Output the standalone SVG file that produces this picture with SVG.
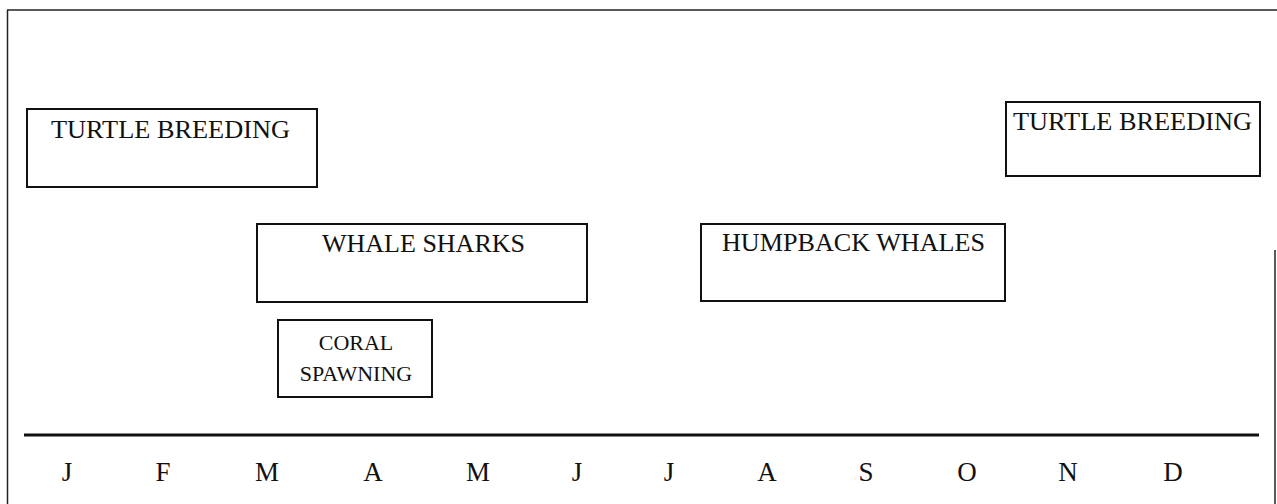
<svg xmlns="http://www.w3.org/2000/svg" width="1277" height="504" viewBox="0 0 1277 504">
<style>
.box{fill:#fff;stroke:#111;stroke-width:2}
.t{font-family:"Liberation Serif","Times New Roman",serif;fill:#111}
.m{font-family:"Liberation Serif","Times New Roman",serif;fill:#111;font-size:27px;text-anchor:middle}
.frame{stroke:#222;stroke-width:1.5;fill:none}
</style>
<rect width="1277" height="504" fill="#fff"/>
<g id="frame">
<line class="frame" x1="7" y1="10" x2="1277" y2="10"/>
<line class="frame" x1="7.5" y1="10" x2="7.5" y2="504"/>
<line class="frame" x1="1275" y1="250" x2="1275" y2="504"/>
</g>
<g id="turtle-left">
<rect class="box" x="27" y="109" width="290" height="78"/>
<text class="t" x="51" y="138" font-size="26" textLength="239" lengthAdjust="spacingAndGlyphs">TURTLE BREEDING</text>
</g>
<g id="turtle-right">
<rect class="box" x="1006" y="102" width="254" height="74"/>
<text class="t" x="1013" y="130" font-size="26" textLength="239" lengthAdjust="spacingAndGlyphs">TURTLE BREEDING</text>
</g>
<g id="whale-sharks">
<rect class="box" x="257" y="224" width="330" height="78"/>
<text class="t" x="322" y="252" font-size="24.5" textLength="203" lengthAdjust="spacingAndGlyphs">WHALE SHARKS</text>
</g>
<g id="humpback-whales">
<rect class="box" x="701" y="224" width="304" height="77"/>
<text class="t" x="722" y="251" font-size="25.5" textLength="263" lengthAdjust="spacingAndGlyphs">HUMPBACK WHALES</text>
</g>
<g id="coral-spawning">
<rect class="box" x="278" y="320" width="154" height="77"/>
<text class="t" x="356" y="350" font-size="22" text-anchor="middle">CORAL</text>
<text class="t" x="356" y="381" font-size="22" text-anchor="middle">SPAWNING</text>
</g>
<g id="connectors">
<line x1="24" y1="435" x2="1259" y2="435" stroke="#111" stroke-width="3"/>
</g>
<g id="months">
<text class="m" x="67" y="481">J</text>
<text class="m" x="163" y="481">F</text>
<text class="m" x="267" y="481">M</text>
<text class="m" x="373" y="481">A</text>
<text class="m" x="478" y="481">M</text>
<text class="m" x="577" y="481">J</text>
<text class="m" x="669" y="481">J</text>
<text class="m" x="767" y="481">A</text>
<text class="m" x="866" y="481">S</text>
<text class="m" x="967" y="481">O</text>
<text class="m" x="1068" y="481">N</text>
<text class="m" x="1173" y="481">D</text>
</g>
</svg>
